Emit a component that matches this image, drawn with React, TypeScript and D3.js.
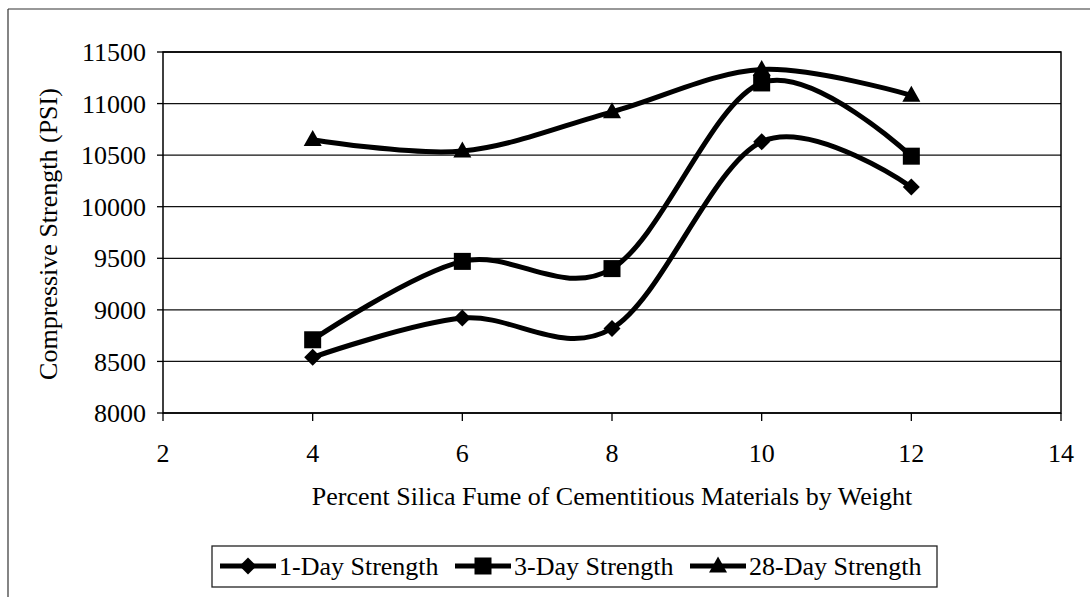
import React from "react";
import * as d3 from "d3";

const xValues = [4, 6, 8, 10, 12];
const oneDay = [8540, 8920, 8820, 10630, 10190];
const threeDay = [8710, 9470, 9400, 11200, 10490];
const twentyEightDay = [10650, 10540, 10920, 11330, 11080];
const seriesNames = ["1-Day Strength", "3-Day Strength", "28-Day Strength"];
const markerTypes = ["diamond", "square", "triangle"];
const xTicks = [2, 4, 6, 8, 10, 12, 14];
const yTicks = [8000, 8500, 9000, 9500, 10000, 10500, 11000, 11500];
const xTitle = "Percent Silica Fume of Cementitious Materials by Weight";
const yTitle = "Compressive Strength (PSI)";

const W = 1090;
const H = 597;
const FONT = "'Liberation Serif', 'Times New Roman', serif";

function Marker({ type, x, y }: { type: string; x: number; y: number }) {
  if (type === "diamond") {
    const r = 8.5;
    return <path d={`M${x},${y - r}L${x + r},${y}L${x},${y + r}L${x - r},${y}Z`} fill="#000" />;
  }
  if (type === "square") {
    const s = 17;
    return <rect x={x - s / 2} y={y - s / 2} width={s} height={s} fill="#000" />;
  }
  const w = 18;
  const h = 16;
  return <path d={`M${x},${y - h * 0.6}L${x + w / 2},${y + h * 0.4}L${x - w / 2},${y + h * 0.4}Z`} fill="#000" />;
}

export default function App() {
  const left = 163;
  const right = 1061;
  const top = 52;
  const bottom = 413;

  const x = d3.scaleLinear().domain([2, 14]).range([left, right]);
  const y = d3.scaleLinear().domain([8000, 11500]).range([bottom, top]);

  const allSeries = [oneDay, threeDay, twentyEightDay];
  const line = d3
    .line<number>()
    .x((_, i) => x(xValues[i]))
    .y((d) => y(d))
    .curve(d3.curveCardinal.tension(0));

  const legendStarts = [220, 455, 690];
  const legendY = 566;

  return (
    <svg
      width={W}
      height={H}
      style={{ position: "absolute", left: 0, top: 0, background: "#fff" }}
      fontFamily={FONT}
    >
      <rect x={0} y={0} width={W} height={H} fill="#fff" />
      {/* outer chart border (left & top visible) */}
      <line x1={8} y1={9} x2={W} y2={9} stroke="#333" strokeWidth={1.2} />
      <line x1={8} y1={9} x2={8} y2={H} stroke="#333" strokeWidth={1.2} />

      {/* gridlines */}
      {yTicks.map((t) => (
        <line key={"g" + t} x1={left} x2={right} y1={y(t)} y2={y(t)} stroke="#111" strokeWidth={1.3} />
      ))}
      {/* plot frame */}
      <rect x={left} y={top} width={right - left} height={bottom - top} fill="none" stroke="#000" strokeWidth={1.5} />

      {/* y ticks */}
      {yTicks.map((t) => (
        <g key={"yt" + t}>
          <line x1={left - 6} x2={left} y1={y(t)} y2={y(t)} stroke="#000" strokeWidth={1.3} />
          <text x={146} y={y(t)} dy="0.35em" textAnchor="end" fontSize={26}>
            {t}
          </text>
        </g>
      ))}
      {/* x ticks */}
      {xTicks.map((t) => (
        <g key={"xt" + t}>
          <line x1={x(t)} x2={x(t)} y1={bottom} y2={bottom + 8} stroke="#000" strokeWidth={1.3} />
          <text x={x(t)} y={462} textAnchor="middle" fontSize={26}>
            {t}
          </text>
        </g>
      ))}

      {/* axis titles */}
      <text x={(left + right) / 2} y={505} textAnchor="middle" fontSize={26}>
        {xTitle}
      </text>
      <text transform={`translate(57,${234}) rotate(-90)`} textAnchor="middle" fontSize={26}>
        {yTitle}
      </text>

      {/* series */}
      {allSeries.map((s, si) => (
        <g key={"s" + si}>
          <path d={line(s) || ""} fill="none" stroke="#000" strokeWidth={5} strokeLinejoin="round" />
          {s.map((v, i) => (
            <Marker key={i} type={markerTypes[si]} x={x(xValues[i])} y={y(v)} />
          ))}
        </g>
      ))}

      {/* legend */}
      <rect x={212} y={546} width={937 - 212} height={41} fill="#fff" stroke="#222" strokeWidth={1.3} />
      {seriesNames.map((n, i) => (
        <g key={"l" + i}>
          <line
            x1={legendStarts[i]}
            x2={legendStarts[i] + 56}
            y1={legendY}
            y2={legendY}
            stroke="#000"
            strokeWidth={5}
          />
          <Marker type={markerTypes[i]} x={legendStarts[i] + 28} y={legendY} />
          <text x={legendStarts[i] + 59} y={legendY} dy="0.35em" fontSize={26}>
            {n}
          </text>
        </g>
      ))}
    </svg>
  );
}
